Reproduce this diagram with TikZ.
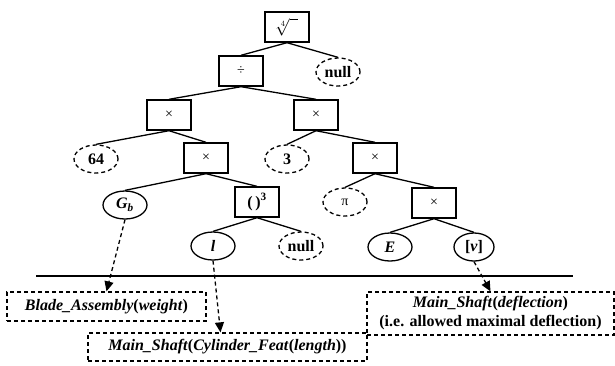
\documentclass[tikz,border=0pt]{standalone}
\usepackage{fontspec}
\setmainfont{Liberation Serif}
\usetikzlibrary{shapes.geometric,arrows.meta}

\begin{document}
\begin{tikzpicture}[x=1pt,y=-1pt]
		\tikzset{every node/.style={font=\fontsize{16}{19}\selectfont\bfseries}}
		\tikzset{operation/.style={font=\fontsize{14}{16}\selectfont}}
		\tikzset{boite/.style={draw, line width=1.4pt, minimum width=44pt, minimum height=30pt, inner sep=0pt}}
		\tikzset{feuille/.style={draw, ellipse, line width=1.3pt, minimum width=44pt, minimum height=28pt, inner sep=0pt}}
		\tikzset{nulle/.style={feuille, dash pattern=on 4pt off 3pt}}
		\tikzset{cadre/.style={draw, line width=1.3pt, dash pattern=on 4pt off 3pt, inner sep=0pt}}
		\tikzset{renvoi/.style={line width=1.3pt, dash pattern=on 4pt off 3pt, -{Triangle[length=10pt,width=9pt]}}}
		\useasboundingbox (0,0) rectangle (615,365);

		\node[boite] (R) at (287,27) {};
		\node[boite] (D) at (241,71) {};
		\node[nulle] (N1) at (338,72) {};
		\node[boite] (M1) at (169,115) {};
		\node[boite] (M2) at (316,115) {};
		\node[nulle] (S) at (96,159) {};
		\node[boite] (M3) at (206,158) {};
		\node[nulle] (T) at (287,159) {};
		\node[boite] (M4) at (375,158) {};
		\node[feuille] (G) at (125,205) {};
		\node[boite] (C) at (257,202) {};
		\node[nulle] (P) at (345,202) {};
		\node[boite] (M5) at (434,203) {};
		\node[feuille] (L) at (213,246) {};
		\node[nulle] (N2) at (301,246) {};
		\node[feuille] (E) at (390,247) {};
		\node[feuille, minimum width=40pt] (V) at (474,247) {};

		\node[cadre, minimum width=199pt, minimum height=29pt] (B) at (106.5,306.5) {};
		\node[cadre, minimum width=279pt, minimum height=28pt] (F) at (227.5,347) {};
		\node[cadre, minimum width=247pt, minimum height=43pt] (Q) at (490.5,313.5) {};
		\coordinate (lg) at (36,276);
		\coordinate (ld) at (573,276);

    \draw[line width=1.3pt] (R.south) -- (D.north);
    \draw[line width=1.3pt] (R.south) -- (N1.north);
    \draw[line width=1.3pt] (D.south) -- (M1.north);
    \draw[line width=1.3pt] (D.south) -- (M2.north);
    \draw[line width=1.3pt] (M1.south) -- (S.north);
    \draw[line width=1.3pt] (M1.south) -- (M3.north);
    \draw[line width=1.3pt] (M2.south) -- (T.north);
    \draw[line width=1.3pt] (M2.south) -- (M4.north);
    \draw[line width=1.3pt] (M3.south) -- (G.north);
    \draw[line width=1.3pt] (M3.south) -- (C.north);
    \draw[line width=1.3pt] (M4.south) -- (P.north);
    \draw[line width=1.3pt] (M4.south) -- (M5.north);
    \draw[line width=1.3pt] (C.south) -- (L.north);
    \draw[line width=1.3pt] (C.south) -- (N2.north);
    \draw[line width=1.3pt] (M5.south) -- (E.north);
    \draw[line width=1.3pt] (M5.south) -- (V.north);
    \draw[line width=1.4pt] (lg) -- (ld);
    \draw[renvoi] (G.south) -- (B.north);
    \draw[renvoi] (L.south) -- ([xshift=-7pt]F.north);
    \draw[renvoi] (V.south) -- (Q.north);

    \draw (R) node {$\sqrt[4]{\phantom{o}}$};
    \draw (D) node[operation] {÷};
    \draw (N1) node {null};
    \draw (M1) node[operation] {×};
    \draw (M2) node[operation] {×};
    \draw (S) node {64};
    \draw (M3) node[operation] {×};
    \draw (T) node {3};
    \draw (M4) node[operation] {×};
    \draw (G) node {\textit{G\textsubscript{b}}};
    \draw (C) node {(\,)\textsuperscript{3}};
    \draw (P) node[operation] {π};
    \draw (M5) node[operation] {×};
    \draw (L) node {\textit{l}};
    \draw (N2) node {null};
    \draw (E) node {\textit{E}};
    \draw (V) node {[\textit{v}]};
    \draw (B) node {\textit{Blade\_Assembly}(\textit{weight})};
    \draw (F) node {\textit{Main\_Shaft}(\textit{Cylinder\_Feat}(\textit{length}))};
    \draw (Q) node[align=center] {\textit{Main\_Shaft}(\textit{deflection})\\(i.e. allowed maximal deflection)};

		\end{tikzpicture}
\end{document}
